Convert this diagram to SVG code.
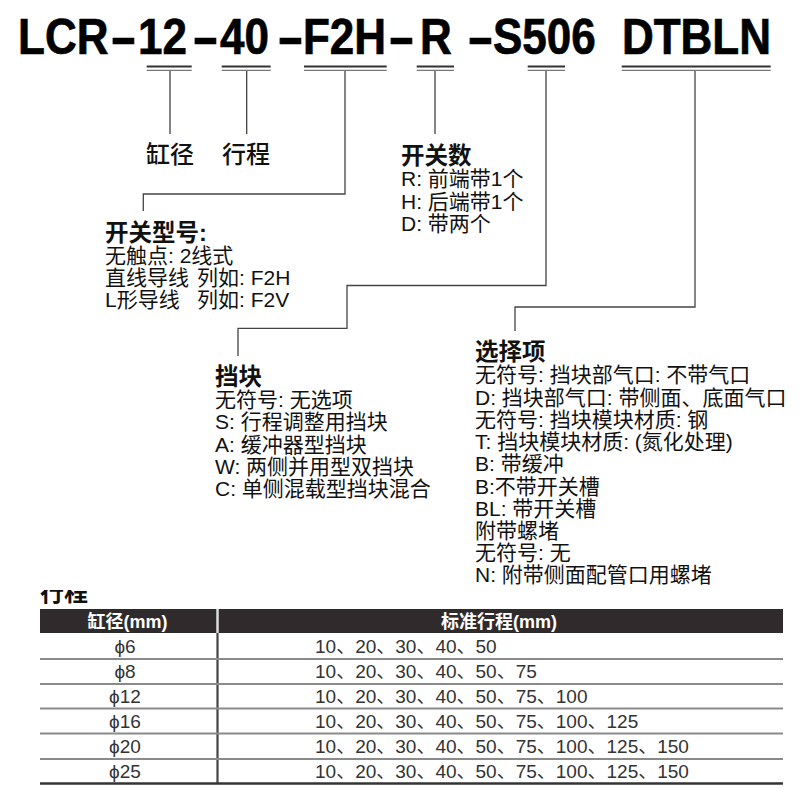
<svg xmlns="http://www.w3.org/2000/svg" width="800" height="800" viewBox="0 0 800 800">
<defs>
<style>
.title{font-family:"Liberation Sans",Arial,sans-serif;font-weight:bold;font-size:50px;fill:#000;stroke:#000;stroke-width:0.7}
.cn{font-family:"Liberation Sans","Noto Sans CJK SC",sans-serif;fill:#111}
.h{font-size:23.5px;font-weight:bold}
.lbl{font-size:24px;font-weight:500}
.b{font-size:21px}
.ul1{stroke:#333;stroke-width:2.2;fill:none}
.ul2{stroke:#777;stroke-width:1.3;fill:none}
.con{stroke:#444;stroke-width:1.3;fill:none}
.th{font-family:"Liberation Sans","Noto Sans CJK SC",sans-serif;font-size:18px;font-weight:bold;fill:#fff}
.td{font-family:"Liberation Sans","Noto Sans CJK SC",sans-serif;font-size:19px;fill:#333}
.rl{stroke:#8a8a8a;stroke-width:2}
</style>
<clipPath id="cut"><rect x="30" y="590" width="90" height="18"/></clipPath>
</defs>
<rect width="800" height="800" fill="#fff"/>

<g id="title">
<text class="title" transform="scale(0.88 1)" y="54"><tspan x="20.5">LCR</tspan><tspan x="125" textLength="30.7" lengthAdjust="spacingAndGlyphs">-</tspan><tspan x="156.8">12</tspan><tspan x="218.2" textLength="30.7" lengthAdjust="spacingAndGlyphs">-</tspan><tspan x="250">40</tspan><tspan x="314.8" textLength="30.7" lengthAdjust="spacingAndGlyphs">-</tspan><tspan x="344.3">F2H</tspan><tspan x="440.9" textLength="30.7" lengthAdjust="spacingAndGlyphs">-</tspan><tspan x="477.3">R </tspan><tspan x="530.7" textLength="30.7" lengthAdjust="spacingAndGlyphs">-</tspan><tspan x="560.2">S506 </tspan><tspan x="706.8">DTBLN</tspan></text>
</g>

<g id="connectors">
<path class="ul1" d="M146.7 66.5H191.7M221.7 66.5H270.7M304 66.5H386.7M416.7 66.5H454M527.7 66.5H565M621.7 66.5H770.7"/>
<path class="ul2" d="M146.7 70.3H191.7M221.7 70.3H270.7M304 70.3H386.7M416.7 70.3H454M527.7 70.3H565M621.7 70.3H770.7"/>
<path class="con" d="M170 71V134"/>
<path class="con" d="M246.7 71V134"/>
<path class="con" d="M435 71V134"/>
<path class="con" d="M345 71V194H143.3V211"/>
<path class="con" d="M546 71V285.5H347V328.3H238V356"/>
<path class="con" d="M695 71V307H515V331"/>
</g>

<g id="bore"><text class="cn lbl" x="146" y="163">缸径</text></g>
<g id="stroke"><text class="cn lbl" x="222" y="163">行程</text></g>

<g id="switch-count">
<text class="cn h" x="401" y="164">开关数</text>
<text class="cn b" x="401" y="186">R: 前端带1个</text>
<text class="cn b" x="401" y="208.5">H: 后端带1个</text>
<text class="cn b" x="401" y="231">D: 带两个</text>
</g>

<g id="switch-type">
<text class="cn h" x="105" y="241">开关型号:</text>
<text class="cn b" x="105" y="262.5">无触点: 2线式</text>
<text class="cn b" x="105" y="285">直线导线 <tspan x="197">列如: F2H</tspan></text>
<text class="cn b" x="105" y="307">L形导线 <tspan x="197">列如: F2V</tspan></text>
</g>

<g id="stopper">
<text class="cn h" x="215" y="385">挡块</text>
<text class="cn b" x="215" y="407">无符号: 无选项</text>
<text class="cn b" x="215" y="429">S: 行程调整用挡块</text>
<text class="cn b" x="215" y="451.5">A: 缓冲器型挡块</text>
<text class="cn b" x="215" y="474">W: 两侧并用型双挡块</text>
<text class="cn b" x="215" y="496">C: 单侧混载型挡块混合</text>
</g>

<g id="options">
<text class="cn h" x="475" y="360">选择项</text>
<text class="cn b" x="475" y="382">无符号: 挡块部气口: 不带气口</text>
<text class="cn b" x="475" y="404.5">D: 挡块部气口: 带侧面、底面气口</text>
<text class="cn b" x="475" y="427">无符号: 挡块模块材质: 钢</text>
<text class="cn b" x="475" y="449">T: 挡块模块材质: (氮化处理)</text>
<text class="cn b" x="475" y="471">B: 带缓冲</text>
<text class="cn b" x="475" y="494">B:不带开关槽</text>
<text class="cn b" x="475" y="516">BL: 带开关槽</text>
<text class="cn b" x="475" y="538">附带螺堵</text>
<text class="cn b" x="475" y="560">无符号: 无</text>
<text class="cn b" x="475" y="582">N: 附带侧面配管口用螺堵</text>
</g>

<g id="stroke-table">
<text class="cn" x="40" y="601" font-size="24" font-weight="bold" clip-path="url(#cut)">行程</text>
<rect x="40" y="609" width="743" height="24" fill="#2f2b2c"/>
<line x1="217.5" y1="609" x2="217.5" y2="633" stroke="#ddd" stroke-width="2.5"/>
<text class="th" x="127.5" y="627.5" text-anchor="middle">缸径(mm)</text>
<text class="th" x="499" y="627.5" text-anchor="middle">标准行程(mm)</text>
<line x1="217.5" y1="633" x2="217.5" y2="783" stroke="#444" stroke-width="2.2"/>
<g class="rl">
<line x1="40" y1="659" x2="783" y2="659"/>
<line x1="40" y1="684" x2="783" y2="684"/>
<line x1="40" y1="708.5" x2="783" y2="708.5"/>
<line x1="40" y1="733.5" x2="783" y2="733.5"/>
<line x1="40" y1="759" x2="783" y2="759"/>
</g>
<line x1="40" y1="783.5" x2="783" y2="783.5" stroke="#333" stroke-width="2.6"/>
<g class="td" text-anchor="middle">
<text x="125" y="653">ϕ6</text>
<text x="125" y="678">ϕ8</text>
<text x="125" y="703">ϕ12</text>
<text x="125" y="727.5">ϕ16</text>
<text x="125" y="752.5">ϕ20</text>
<text x="125" y="777.5">ϕ25</text>
</g>
<g class="td">
<text x="315" y="653">10、20、30、40、50</text>
<text x="315" y="678">10、20、30、40、50、75</text>
<text x="315" y="703">10、20、30、40、50、75、100</text>
<text x="315" y="727.5">10、20、30、40、50、75、100、125</text>
<text x="315" y="752.5">10、20、30、40、50、75、100、125、150</text>
<text x="315" y="777.5">10、20、30、40、50、75、100、125、150</text>
</g>
</g>
</svg>
